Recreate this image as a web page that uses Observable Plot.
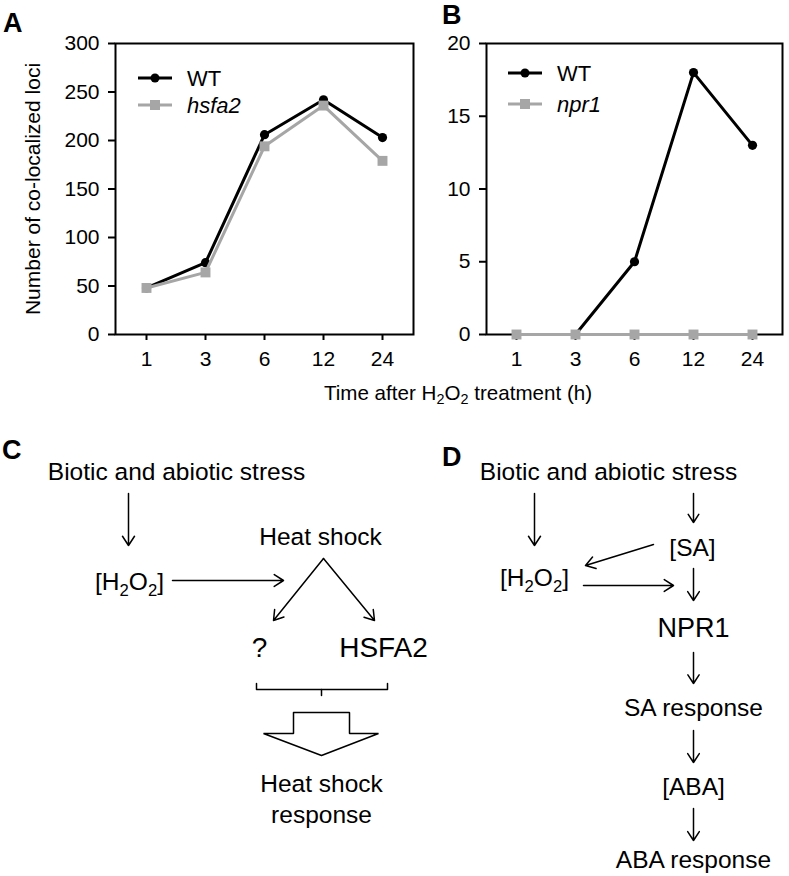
<!DOCTYPE html>
<html><head><meta charset="utf-8">
<script src="https://cdn.jsdelivr.net/npm/d3@7"></script>
<script src="https://cdn.jsdelivr.net/npm/@observablehq/plot@0.6"></script>
<style>
body{margin:0;background:#fff;}
#fig{position:relative;width:789px;height:876px;font-family:"Liberation Sans",Arial,Helvetica,sans-serif;color:#000;overflow:hidden;background:#fff;}
.abs{position:absolute;}
.letter{font-weight:bold;font-size:27px;line-height:1;}
.xtitle{font-size:20.6px;line-height:1;white-space:nowrap;transform:translateX(-50%);}
.xtitle .sub{font-size:0.7em;position:relative;top:0.3em;}
</style></head><body><div id="fig"></div>
<script>
// ---------- data ----------
const times = ["1", "3", "6", "12", "24"];
const wtA = [48, 74, 206, 242, 203];
const hsfa2 = [48, 64, 194, 236, 179];
const wtB = [0, 0, 5, 18, 13];
const npr1 = [0, 0, 0, 0, 0];
const yTicksA = [0, 50, 100, 150, 200, 250, 300];
const yTicksB = [0, 5, 10, 15, 20];
const yLabelA = "Number of co-localized loci";
const xTitle = "Time after H2O2 treatment (h)";
const panelLetters = ["A", "B", "C", "D"];

// diagram labels (C and D)
const diagramLabels = ["Biotic and abiotic stress", "[H2O2]", "Heat shock", "?", "HSFA2", "Heat shock", "response",
  "Biotic and abiotic stress", "[SA]", "[H2O2]", "NPR1", "SA response", "[ABA]", "ABA response"];

// ---------- layout (figure pixel coordinates) ----------
const FONT = '"Liberation Sans", Arial, Helvetica, sans-serif';
const labelLayout = [
  [176, 472, 24.5], [129, 582, 24.5], [320, 537, 24.5], [259, 648, 28], [383, 648, 28], [321, 784, 24.5], [321, 815, 24.5],
  [608, 472, 24.5], [692, 548, 24.5], [534, 578, 24.5], [693, 628, 27], [693, 708, 24.5], [693, 787, 24.5], [693, 860, 24.5]
];
const arrowLayout = [
  [128, 493, 128, 545], [172, 580, 283, 580], [323, 558, 273, 620], [323, 558, 374, 620],
  [534, 493, 534, 545], [693, 493, 693, 522], [653, 544, 585, 565], [583, 585, 673, 585],
  [693, 568, 693, 600], [693, 652, 693, 683], [693, 730, 693, 762], [693, 808, 693, 840]
];
const bracketLayout = [[256, 683], [256, 689], [387, 689], [387, 683]];
const bracketTick = [[321, 689], [321, 695]];
const blockArrowLayout = [[293, 712], [349, 712], [349, 733], [378, 733], [321, 755], [263, 733], [293, 733], [293, 712]];

const fig = document.getElementById("fig");

function place(el, left, top) {
  el.style.position = "absolute";
  el.style.left = left + "px";
  el.style.top = top + "px";
  fig.appendChild(el);
  return el;
}

function linePanel({series, yDomain, yTicks, width, marginLeft, ylabel}) {
  const marks = [
    Plot.frame({stroke: "#000", strokeWidth: 2}),
    Plot.axisY({ticks: yTicks, tickSize: 7, tickPadding: 9, strokeWidth: 2, fontSize: 21, label: null}),
    Plot.axisX({tickSize: 6, tickPadding: 11, strokeWidth: 2, fontSize: 21, label: null})
  ];
  if (ylabel) {
    marks.push(Plot.text([ylabel], {text: d => d, frameAnchor: "left", dx: -82, rotate: -90, textAnchor: "middle", fontSize: 21}));
  }
  for (const s of series) {
    const data = times.map((t, i) => ({time: t, value: s.values[i]}));
    marks.push(Plot.line(data, {x: "time", y: "value", stroke: s.color, strokeWidth: 3}));
    marks.push(Plot.dot(data, {x: "time", y: "value", fill: s.color, symbol: s.symbol, r: s.r, stroke: "none"}));
  }
  return Plot.plot({
    width, height: 372, marginTop: 43, marginBottom: 38, marginLeft, marginRight: 7,
    style: {fontFamily: FONT, fontSize: "21px", color: "#000", background: "transparent", overflow: "visible"},
    x: {type: "point", domain: times, padding: 0.5},
    y: {domain: yDomain},
    marks
  });
}

function legend(items, x0, y0) {
  const svg = d3.create("svg").attr("width", 160).attr("height", 60).style("overflow", "visible");
  items.forEach((it, i) => {
    const y = 10 + i * it.gap;
    const g = svg.append("g").attr("transform", `translate(0,${y})`);
    g.append("line").attr("x1", 0).attr("x2", 34).attr("stroke", it.color).attr("stroke-width", 3);
    if (it.symbol === "circle") g.append("circle").attr("cx", 17).attr("r", 4.5).attr("fill", it.color);
    else g.append("rect").attr("x", 12).attr("y", -5).attr("width", 10).attr("height", 10).attr("fill", it.color);
    g.append("text").attr("x", 49).attr("dy", "0.35em").attr("font-size", 22).attr("font-family", FONT)
      .attr("font-style", it.italic ? "italic" : "normal").text(it.name);
  });
  place(svg.node(), x0, y0 - 10);
}

// Panel A
const plotA = linePanel({
  series: [
    {values: wtA, color: "#000", symbol: "circle", r: 4.6},
    {values: hsfa2, color: "#a6a6a6", symbol: "square", r: 5.6}
  ],
  yDomain: [0, 300], yTicks: yTicksA, width: 420, marginLeft: 115, ylabel: yLabelA
});
place(plotA, 0, 0);

// Panel B
const plotB = linePanel({
  series: [
    {values: wtB, color: "#000", symbol: "circle", r: 4.6},
    {values: npr1, color: "#a6a6a6", symbol: "square", r: 5.6}
  ],
  yDomain: [0, 20], yTicks: yTicksB, width: 359, marginLeft: 56
});
place(plotB, 430, 0);

legend([{name: "WT", color: "#000", symbol: "circle", gap: 27}, {name: "hsfa2", color: "#a6a6a6", symbol: "square", italic: true, gap: 27}], 138, 78);
legend([{name: "WT", color: "#000", symbol: "circle", gap: 31}, {name: "npr1", color: "#a6a6a6", symbol: "square", italic: true, gap: 31}], 508, 73);

// x-axis title (shared)
const xt = document.createElement("div");
xt.className = "xtitle";
xt.innerHTML = xTitle.replace("H2O2", 'H<span class="sub">2</span>O<span class="sub">2</span>');
place(xt, 458, 383);

// Panel letters
[[panelLetters[0], 3, 10], [panelLetters[1], 442, 2], [panelLetters[2], 2, 437], [panelLetters[3], 442, 444]].forEach(([t, l, tp]) => {
  const d = document.createElement("div");
  d.className = "letter";
  d.textContent = t;
  place(d, l, tp);
});

// Diagrams C & D
const TOP = 405, H = 876 - TOP;
const nodes = diagramLabels.map((label, i) => ({label, x: labelLayout[i][0], y: labelLayout[i][1], size: labelLayout[i][2]}));
const arrows = arrowLayout.map(([x1, y1, x2, y2]) => ({x1, y1, x2, y2}));
const pts = a => a.map(([x, y]) => ({x, y}));

const diagram = Plot.plot({
  width: 789, height: H, margin: 0,
  style: {fontFamily: FONT, color: "#000", background: "transparent", overflow: "visible"},
  x: {domain: [0, 789], range: [0, 789], axis: null},
  y: {domain: [TOP, 876], range: [0, H], axis: null},
  marks: [
    Plot.arrow(arrows, {x1: "x1", y1: "y1", x2: "x2", y2: "y2", stroke: "#000", strokeWidth: 1.5, headLength: 11, headAngle: 66}),
    Plot.line(pts(bracketLayout), {x: "x", y: "y", stroke: "#000", strokeWidth: 1.5}),
    Plot.line(pts(bracketTick), {x: "x", y: "y", stroke: "#000", strokeWidth: 1.5}),
    Plot.line(pts(blockArrowLayout), {x: "x", y: "y", stroke: "#000", fill: "#fff", strokeWidth: 1.5, strokeLinejoin: "miter"}),
    Plot.text(nodes, {x: "x", y: "y", text: "label", fontSize: d => d.size, textAnchor: "middle", fill: "#000"})
  ]
});
place(diagram, 0, TOP);

// subscripts for H2O2 labels
diagram.querySelectorAll("text").forEach(t => {
  if (t.textContent.includes("H2O2")) {
    const fs = parseFloat(t.getAttribute("font-size")) || 24.5;
    const txt = t.textContent;
    while (t.firstChild) t.removeChild(t.firstChild);
    const ns = "http://www.w3.org/2000/svg";
    let shifted = false;
    for (let i = 0; i < txt.length; i++) {
      const ch = txt[i];
      const isSub = ch === "2" && i > 0 && (txt[i - 1] === "H" || txt[i - 1] === "O");
      const sp = document.createElementNS(ns, "tspan");
      sp.textContent = ch;
      if (isSub) {
        sp.setAttribute("font-size", fs * 0.68);
        sp.setAttribute("dy", fs * 0.24);
        shifted = true;
      } else if (shifted) {
        sp.setAttribute("dy", -fs * 0.24);
        shifted = false;
      }
      t.appendChild(sp);
    }
  }
});
</script></body></html>
